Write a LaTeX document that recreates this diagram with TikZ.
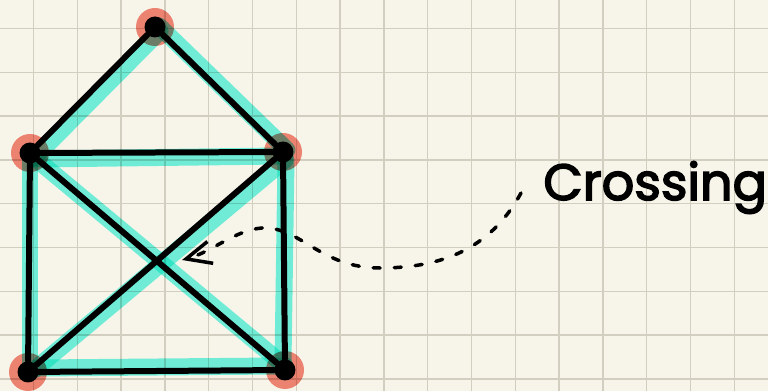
\documentclass[tikz,border=0pt]{standalone}
\usepackage{fontspec}
\newfontfamily\handfont{Poppins}[FakeBold=3]
\usetikzlibrary{arrows.meta, backgrounds, positioning}
\definecolor{paper}{HTML}{F7F5EA}
\definecolor{gridgray}{HTML}{D2CEC0}
\definecolor{glowcyan}{HTML}{74F6EA}
\definecolor{blobred}{HTML}{F4887B}

\begin{document}
\begin{tikzpicture}[
    x=0.02cm, y=-0.02cm,
    vtx/.style={circle, fill=black, inner sep=0pt, minimum size=0.42cm},
    blob/.style={fill=blobred},
    glow/.style={draw=glowcyan, line width=0.34cm, line cap=round},
    edge/.style={line width=0.12cm, line cap=round, line join=round},
    gridline/.style={draw=gridgray, line width=0.9pt},
    arr/.style={-{Straight Barb[length=5mm, width=4.5mm]}, line width=2pt,
                dash pattern=on 4pt off 8pt, line cap=round}
]
    \useasboundingbox (0,0) rectangle (768,391);
    \node[vtx] (top) at (155,27) {};
    \node[vtx] (ml) at (30,153) {};
    \node[vtx] (mr) at (283,152) {};
    \node[vtx] (bl) at (28,372) {};
    \node[vtx] (br) at (285,370) {};
    \coordinate (tip) at (182,260);
    \node[font=\handfont\fontsize{29}{34}\selectfont, anchor=base west, inner sep=0pt] (lbl) at (543,200) {Crossing};
    \coordinate (tail) at (521,193);

    \begin{scope}[on background layer]
        \fill[paper] (0,0) rectangle (768,391);
        \foreach \i in {0,...,16}
            \draw[gridline] ({33.5+43.8*\i},0) -- ({33.5+43.8*\i},391);
        \foreach \j in {0,...,8}
            \draw[gridline] (0,{28.5+43.8*\j}) -- (768,{28.5+43.8*\j});
        \begin{scope}[blend mode=multiply]
            \foreach \v in {top,ml,mr,bl,br}
                \fill[blob] (\v) circle (19);
            \draw[glow] ([shift={(5,4)}]top.center) -- ([shift={(4,5)}]ml.center);
            \draw[glow] ([shift={(4,-1)}]top.center) -- ([shift={(4,-2)}]mr.center);
            \draw[glow] ([shift={(6,6)}]ml.center) -- ([shift={(-2,4)}]mr.center);
            \draw[glow] ([shift={(0,8)}]ml.center) -- ([shift={(2,-10)}]bl.center);
            \draw[glow] ([shift={(3,8)}]mr.center) -- ([shift={(-2,-8)}]br.center);
            \draw[glow] ([shift={(10,-4)}]bl.center) -- ([shift={(-6,-4)}]br.center);
            \draw[glow] ([shift={(6,6)}]ml.center) -- ([shift={(0,-4)}]br.center);
            \draw[glow] ([shift={(2,8)}]mr.center) -- ([shift={(6,-2)}]bl.center);
        \end{scope}
    \end{scope}

    \draw[edge] (top) -- (ml);
    \draw[edge] (top) -- (mr);
    \draw[edge] (ml) -- (mr);
    \draw[edge] (ml) -- (bl);
    \draw[edge] (mr) -- (br);
    \draw[edge] (bl) -- (br);
    \draw[edge] (ml) -- (br);
    \draw[edge] (mr) -- (bl);
    \draw[arr] (tail) .. controls (490,250) and (440,268) .. (380,268)
        .. controls (320,268) and (300,226) .. (262,228)
        .. controls (235,230) and (212,252) .. (tip);
\end{tikzpicture}
\end{document}
